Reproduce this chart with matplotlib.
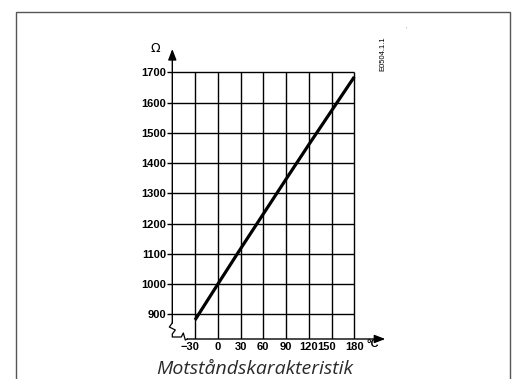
import matplotlib
matplotlib.use("Agg")
import matplotlib.pyplot as plt
from matplotlib.patches import Rectangle
from matplotlib.transforms import ScaledTranslation

# Resistance characteristic of the temperature sensor
temperature_c = [-30, 0, 30, 60, 90, 120, 150, 180]
resistance_ohm = [882, 1000, 1117, 1232, 1347, 1461, 1573, 1685]

x_ticks = [-30, 0, 30, 60, 90, 120, 150, 180]
x_tick_labels = ["\u221230", "0", "30", "60", "90", "120", "150", "180"]
y_ticks = [900, 1000, 1100, 1200, 1300, 1400, 1500, 1600, 1700]
y_tick_labels = ["900", "1000", "1100", "1200", "1300", "1400", "1500", "1600", "1700"]

title = "Motståndskarakteristik"
code_label = "E0504.1.1"

W, H, DPI = 516, 379, 100
fig = plt.figure(figsize=(W / DPI, H / DPI), dpi=DPI)
fig.patch.set_facecolor("white")

# outer frame (open at the bottom edge)
fig.add_artist(Rectangle((16 / W, -0.05), (510 - 16) / W, 1.05 - 12 / H,
                         transform=fig.transFigure, fill=False,
                         edgecolor="#555555", linewidth=1.0))

X0, X1 = -60, 230      # x-axis origin and data extent
Y0, Y1 = 819, 1820     # y-axis origin and data extent
ax_left_px, ax_right_px = 172.3, 392.2
ax_bottom_px, ax_top_px = 339.0, 36.0
ax = fig.add_axes([ax_left_px / W, 1 - ax_bottom_px / H,
                   (ax_right_px - ax_left_px) / W,
                   (ax_bottom_px - ax_top_px) / H])
ax.set_xlim(X0, X1)
ax.set_ylim(Y0, Y1)
ax.patch.set_visible(False)
for s in ax.spines.values():
    s.set_visible(False)

sx = (ax_right_px - ax_left_px) / (X1 - X0)   # px per degree
sy = (ax_bottom_px - ax_top_px) / (Y1 - Y0)   # px per ohm


def px(dx, dy):
    """Pixel offset from the axes origin converted to data coordinates."""
    return X0 + dx / sx, Y0 + dy / sy


grid_kw = dict(color="black", linewidth=1.0, zorder=2)
ax.hlines(y_ticks, X0, x_ticks[-1], **grid_kw)
ax.vlines(x_ticks, Y0, y_ticks[-1], **grid_kw)

# axes with break marks near the origin
ya_top = Y1 - 13 / sy
xa_end = X0 + 213 / sx
brk = [px(0, 16), px(-3, 12), px(3, 9), px(0, 5), px(0, 2),
       px(9, 2), px(11, 6), px(13, -1), px(15, 0)]
ax.plot([p[0] for p in brk], [p[1] for p in brk], color="black",
        linewidth=0.9, clip_on=False, zorder=3)
arrow_kw = dict(arrowstyle="-|>,head_length=0.65,head_width=0.25",
                color="black", linewidth=1.0, mutation_scale=10,
                shrinkA=0, shrinkB=0)
ax.annotate("", xy=(X0, ya_top), xytext=brk[0], arrowprops=arrow_kw,
            annotation_clip=False)
ax.annotate("", xy=(xa_end, Y0), xytext=brk[-1], arrowprops=arrow_kw,
            annotation_clip=False)

# characteristic curve
ax.plot(temperature_c, resistance_ohm, color="black", linewidth=2.3,
        solid_capstyle="butt", zorder=4)

tick_font = dict(family="Liberation Sans", weight="bold", size=8)
ax.set_yticks(y_ticks)
ax.set_yticklabels(y_tick_labels, fontdict=tick_font)
ax.set_xticks(x_ticks)
ax.set_xticklabels(x_tick_labels, fontdict=tick_font)
ax.tick_params(axis="y", length=3.5, width=1.0, pad=1.0, color="black")
ax.tick_params(axis="x", length=0, pad=2.5)
x_label_shift = {"\u221230": -5, "150": -5}
for lab in ax.get_xticklabels():
    dx = x_label_shift.get(lab.get_text(), 0)
    if dx:
        lab.set_transform(lab.get_transform()
                          + ScaledTranslation(dx / DPI, 0, fig.dpi_scale_trans))

# unit labels
fig.text(155 / W, 1 - 49 / H, "\u03a9", ha="center", va="center",
         fontsize=9, family="DejaVu Sans")
fig.text(373 / W, 1 - 344 / H, "°C", ha="center", va="center",
         **tick_font)

fig.text(383 / W, 1 - 53.5 / H, code_label, rotation=90, ha="center",
         va="center", fontsize=5.5, family="Liberation Sans")
fig.text(406 / W, 1 - 29 / H, "'", ha="center", va="center",
         fontsize=4, color="#888888")

fig.text(254.5 / W, 1 - 373.5 / H, title, ha="center", va="baseline",
         fontsize=14, style="italic", family="Open Sans", color="#2a2a2a")

fig.savefig("out.png", dpi=DPI)
